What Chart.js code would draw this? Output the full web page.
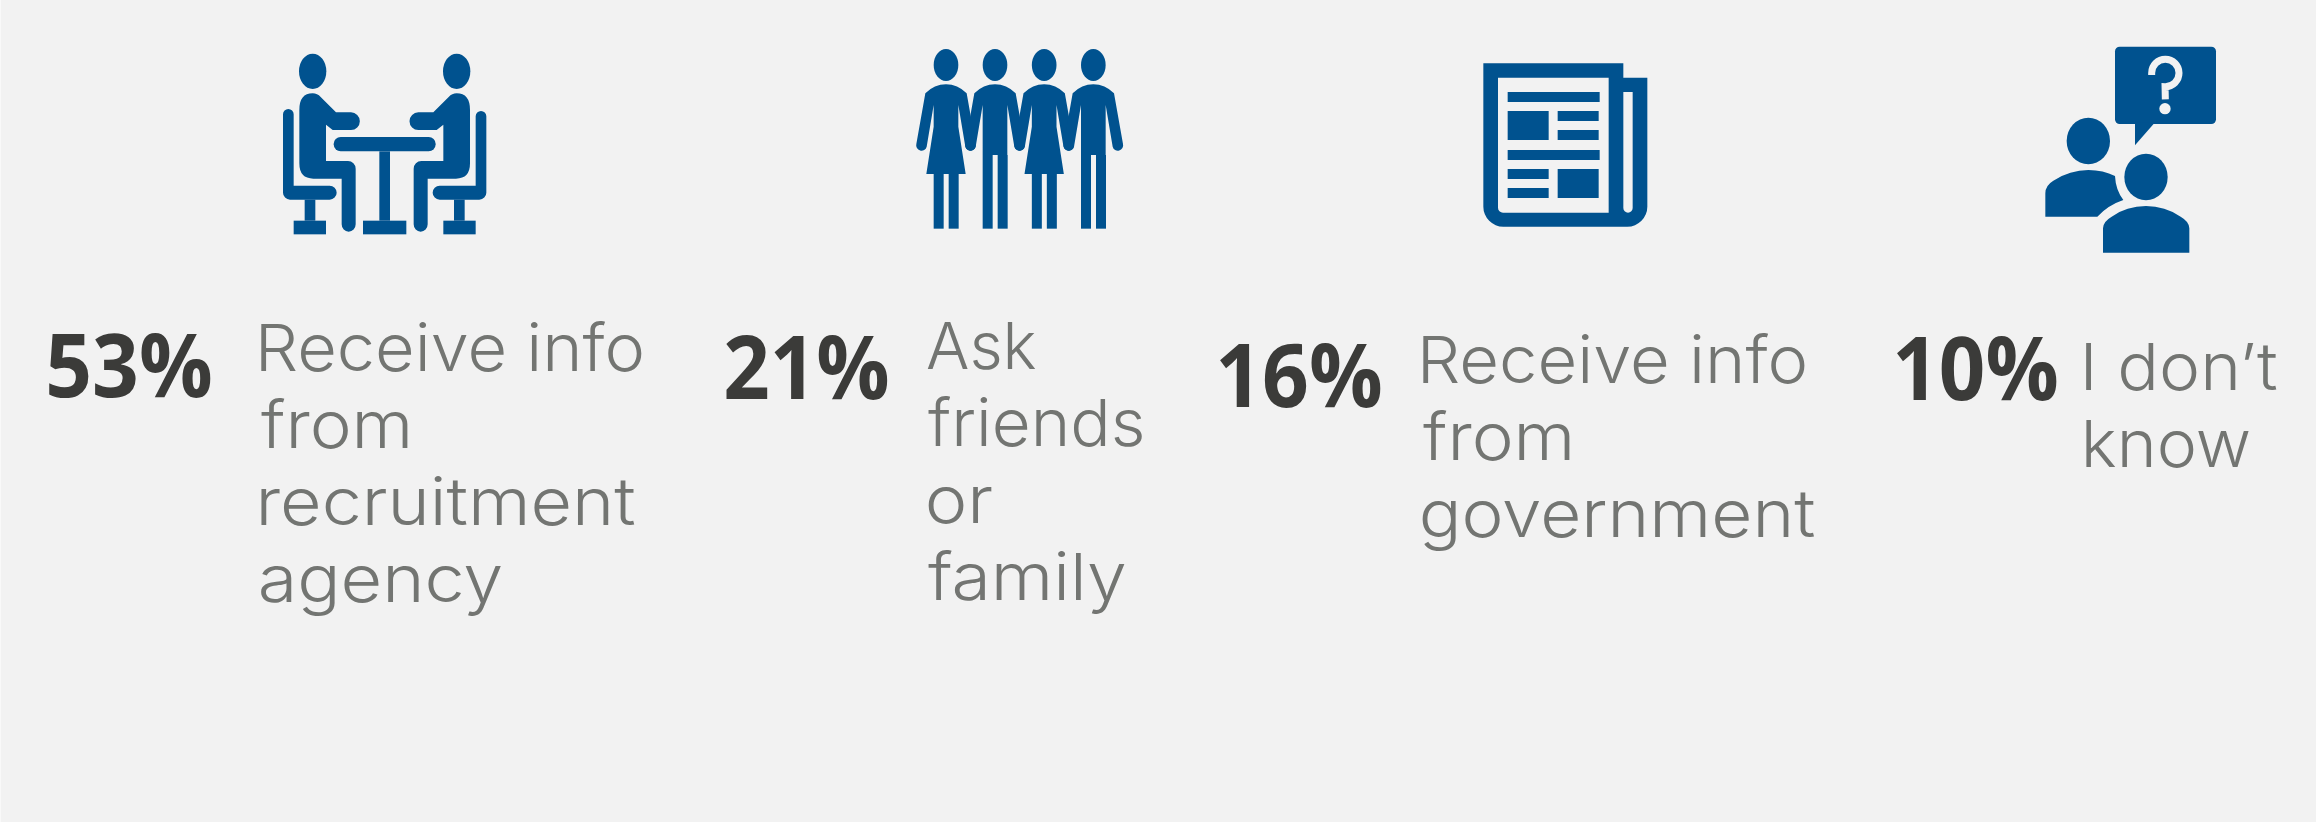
<!DOCTYPE html>
<html>
<head>
<meta charset="utf-8">
<title>Sources of job information</title>
<script src="https://cdn.jsdelivr.net/npm/chart.js@4"></script>
<style>
    html, body { margin: 0; padding: 0; background: #f2f2f2; }
    canvas { display: block; }
</style>
</head>
<body>
<canvas id="infoChart" width="2316" height="822"></canvas>
<script>
// Survey values
const shares = [53, 21, 16, 10];
const answers = [
    ['Receive info', 'from', 'recruitment', 'agency'],
    ['Ask', 'friends', 'or', 'family'],
    ['Receive info', 'from', 'government'],
    ['I don\u2019t', 'know']
];

// Layout, in the units of the full-canvas axes
const iconCentres = [[390, 140], [1030, 140], [1570, 140], [2130, 150]];
const shareAnchors = [[49, 397], [726, 399], [1220, 407], [1897, 400]];
const shareWidths = [161, 161, 160, 159];
const answerLefts = [261, 928, 1423, 2086];
const answerFirstLines = [371, 369, 383, 390];
const answerLineGap = 77;
const answerWidths = [
    [380, 147, 373, 240],
    [107, 214, 63, 196],
    [381, 147, 391],
    [190, 162]
];

const BLUE = '#00528f';
const BACKGROUND = '#f2f2f2';
const SHARE_FONT = 'bold 87px "Open Sans"';
const ANSWER_FONT = '350 65px Inter';

// Icons are painted once on small canvases and handed to Chart.js as point styles.
// Their paths are written at three times the final size.
function iconCanvas(width, height, paint) {
    const canvas = document.createElement('canvas');
    canvas.width = width;
    canvas.height = height;
    const ctx = canvas.getContext('2d');
    ctx.scale(1 / 3, 1 / 3);
    ctx.fillStyle = BLUE;
    paint(ctx);
    return canvas;
}

function fillEllipse(ctx, x, y, rx, ry) {
    ctx.beginPath();
    ctx.ellipse(x, y, rx, ry, 0, 0, Math.PI * 2);
    ctx.fill();
}

function fillRounded(ctx, x, y, w, h, r) {
    ctx.beginPath();
    ctx.roundRect(x, y, w, h, r);
    ctx.fill();
}

function seatedPerson(ctx, backTop) {
    fillEllipse(ctx, 158, 124, 41, 53);
    ctx.fill(new Path2D(
        'M118 240 Q118 190 158 190 Q172 190 182 201 L228 247 L273 247 A26 26 0 0 1 273 300 ' +
        'L218 300 L198 284 L198 393 L264 393 A23 23 0 0 1 287 416 L287 583 A21 22 0 0 1 245 583 ' +
        'L245 446 L160 446 Q118 446 118 400 Z'));
    // chair back and seat
    ctx.fill(new Path2D(
        'M69 ' + (backTop + 16) + ' A16 16 0 0 1 101 ' + (backTop + 16) +
        ' L101 467 L209 467 A21 21 0 0 1 209 509 L90 509 A21 21 0 0 1 69 488 Z'));
    ctx.fillRect(134, 509, 32, 63);
    ctx.fillRect(101, 572, 97, 41);
}

function meetingIcon(ctx) {
    seatedPerson(ctx, 237);
    fillRounded(ctx, 221, 321, 306, 43, 21);
    ctx.fillRect(358, 364, 32, 208);
    ctx.fillRect(309, 572, 130, 41);
    ctx.save();
    ctx.translate(748, 0);
    ctx.scale(-1, 1);
    seatedPerson(ctx, 243);
    ctx.restore();
}

function standingPerson(ctx, cx, inDress) {
    ctx.save();
    ctx.translate(cx, 0);
    fillEllipse(ctx, 0, 105, 37, 48);
    const torso = inDress
        ? 'L37 290 L59 432 L-59 432 L-37 290 '
        : 'L37 375 L-37 375 ';
    ctx.fill(new Path2D(
        'M-62 190 Q-35 163 0 163 Q35 163 62 190 L89 342 A16 16 0 0 1 58 350 L37 225 ' +
        torso +
        'L-37 225 L-58 350 A16 16 0 0 1 -89 342 Z'));
    if (inDress) {
        ctx.fillRect(-37, 432, 30, 164);
        ctx.fillRect(8, 432, 30, 164);
    } else {
        ctx.fillRect(-37, 375, 30, 221);
        ctx.fillRect(8, 375, 30, 221);
    }
    ctx.restore();
}

function familyIcon(ctx) {
    standingPerson(ctx, 138, true);
    standingPerson(ctx, 285, false);
    standingPerson(ctx, 432.5, true);
    standingPerson(ctx, 580, false);
}

function newspaperIcon(ctx) {
    ctx.fill(new Path2D(
        'M70 70 L490 70 L490 113 L562 113 L562 500 A60 60 0 0 1 502 560 L130 560 A60 60 0 0 1 70 500 Z ' +
        'M114 113 L114 503 A15 15 0 0 0 129 518 L446 518 L446 113 Z ' +
        'M490 156 L490 504 A14 14 0 0 0 518 504 L518 156 Z'), 'evenodd');
    const blocks = [
        [143, 156, 276, 30], [143, 213, 123, 87], [293, 213, 123, 30], [293, 270, 123, 30],
        [143, 330, 276, 30], [143, 387, 123, 30], [143, 444, 123, 30], [293, 387, 123, 87]
    ];
    blocks.forEach(b => ctx.fillRect(b[0], b[1], b[2], b[3]));
}

function questionIcon(ctx) {
    // speech bubble
    fillRounded(ctx, 285, 50, 303, 232, 14);
    ctx.fill(new Path2D('M345 278 L345 346 L404 278 Z'));
    ctx.strokeStyle = BACKGROUND;
    ctx.lineWidth = 21;
    ctx.beginPath();
    ctx.moveTo(395, 135);
    ctx.arc(436, 129, 41, Math.PI * 1.0, Math.PI * 0.5 + 0.02);
    ctx.lineTo(436, 208);
    ctx.stroke();
    ctx.fillStyle = BACKGROUND;
    fillEllipse(ctx, 435, 236, 17, 17);
    ctx.fillStyle = BLUE;
    // two people
    fillEllipse(ctx, 205, 333, 65, 70);
    ctx.fill(new Path2D(
        'M76 560 L76 490 Q76 466 100 452 Q150 420 205 420 Q250 420 285 438 Q287 480 310 510 Q265 525 232 560 Z'));
    fillEllipse(ctx, 378, 441, 65, 70);
    ctx.fill(new Path2D(
        'M249 668 L249 595 Q249 575 275 560 Q320 528 378 528 Q435 528 482 560 Q508 575 508 595 L508 668 Z'));
}

const icons = [
    iconCanvas(260, 220, meetingIcon),
    iconCanvas(260, 220, familyIcon),
    iconCanvas(220, 200, newspaperIcon),
    iconCanvas(220, 240, questionIcon)
];

// Finds where a line's ink really starts and ends by painting it off screen
const scratch = document.createElement('canvas');
scratch.width = 900;
scratch.height = 200;
const scratchCtx = scratch.getContext('2d', { willReadFrequently: true });

function inkExtent(text, font) {
    scratchCtx.clearRect(0, 0, scratch.width, scratch.height);
    scratchCtx.font = font;
    scratchCtx.fillStyle = '#000';
    scratchCtx.fillText(text, 50, 130);
    const alpha = scratchCtx.getImageData(0, 0, scratch.width, scratch.height).data;
    let first = scratch.width, last = 0;
    for (let row = 0; row < scratch.height; row++) {
        for (let col = 0; col < scratch.width; col++) {
            if (alpha[(row * scratch.width + col) * 4 + 3] > 100) {
                if (col < first) first = col;
                if (col > last) last = col;
            }
        }
    }
    return { left: first - 50, width: last - first + 1 };
}

// Writes one line so that its ink starts at left and spans the given width
function fitText(ctx, text, left, baseline, width) {
    const ink = inkExtent(text, ctx.font);
    ctx.save();
    ctx.translate(left, baseline);
    ctx.scale(width / ink.width, 1);
    ctx.fillText(text, -ink.left, 0);
    ctx.restore();
}

// Thin lighter strip along the left edge of the panel
const panelEdge = {
    id: 'panelEdge',
    beforeDatasetsDraw(chart) {
        chart.ctx.fillStyle = '#f9f9f9';
        chart.ctx.fillRect(0, 0, 1, chart.height);
    }
};

// Draws the percentages and answer texts at their axis positions
const calloutText = {
    id: 'calloutText',
    afterDatasetsDraw(chart) {
        const { ctx, scales: { x, y } } = chart;
        ctx.save();
        ctx.textBaseline = 'alphabetic';
        ctx.textAlign = 'left';
        shares.forEach((share, i) => {
            ctx.font = SHARE_FONT;
            ctx.fillStyle = '#3b3b39';
            fitText(ctx, share + '%', x.getPixelForValue(shareAnchors[i][0]),
                y.getPixelForValue(shareAnchors[i][1]), shareWidths[i]);

            ctx.font = ANSWER_FONT;
            ctx.fillStyle = '#737572';
            answers[i].forEach((line, n) => {
                fitText(ctx, line, x.getPixelForValue(answerLefts[i]),
                    y.getPixelForValue(answerFirstLines[i] + n * answerLineGap), answerWidths[i][n]);
            });
        });
        ctx.restore();
    }
};

// Function to build the chart once the fonts are ready
function drawChart() {
    new Chart(document.getElementById('infoChart'), {
        type: 'scatter',
        data: {
            datasets: [{
                data: iconCentres.map(c => ({ x: c[0], y: c[1] })),
                pointStyle: icons,
                pointRadius: 40,
                pointHoverRadius: 40
            }]
        },
        options: {
            responsive: false,
            animation: false,
            layout: { padding: 0, autoPadding: false },
            plugins: { legend: { display: false }, tooltip: { enabled: false } },
            scales: {
                x: { type: 'linear', display: false, min: 0, max: 2316 },
                y: { type: 'linear', display: false, min: 0, max: 822, reverse: true }
            }
        },
        plugins: [panelEdge, calloutText]
    });
}

Promise.all([
    document.fonts.load(SHARE_FONT, '53%'),
    document.fonts.load(ANSWER_FONT, 'Receive')
]).then(drawChart, drawChart);
</script>
</body>
</html>
